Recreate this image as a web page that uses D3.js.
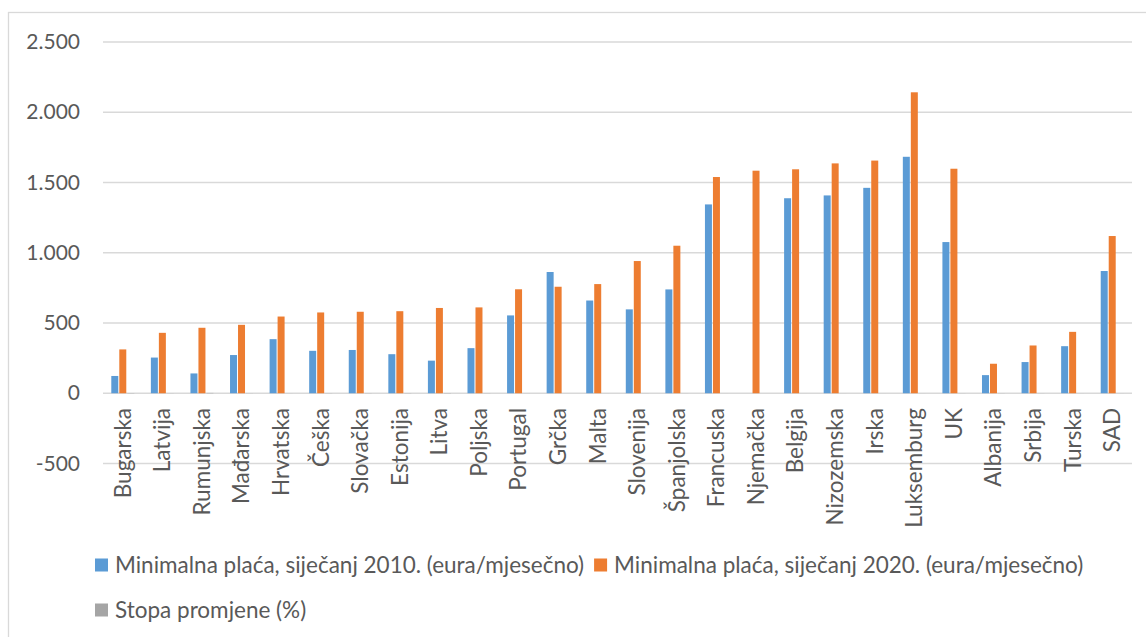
<!DOCTYPE html>
<html>
<head>
<meta charset="utf-8">
<script src="https://cdn.jsdelivr.net/npm/d3@7"></script>
<style>
  html, body { margin: 0; padding: 0; background: #fff; }
  svg text { font-family: Lato, "Open Sans", sans-serif; fill: #595959; }
</style>
</head>
<body>
<svg id="chart" width="1146" height="637"></svg>
<script>
const categories = ["Bugarska","Latvija","Rumunjska","Mađarska","Hrvatska","Češka","Slovačka","Estonija","Litva","Poljska","Portugal","Grčka","Malta","Slovenija","Španjolska","Francuska","Njemačka","Belgija","Nizozemska","Irska","Luksemburg","UK","Albanija","Srbija","Turska","SAD"];
const wage2010 = [123,254,141,272,385,302,308,278,232,321,554,863,660,597,739,1344,null,1388,1408,1462,1683,1076,129,222,335,870];
const wage2020 = [312,430,466,487,546,575,580,584,607,611,740,758,777,941,1050,1539,1584,1594,1636,1656,2142,1598,210,340,437,1119];
const changeRate = [1.62,0.69,2.30,0.79,0.42,0.90,0.88,1.10,1.62,0.90,0.34,-0.12,0.18,0.58,0.42,0.15,0,0.15,0.16,0.13,0.27,0.49,0.63,0.53,0.31,0.29];
const seriesNames = ["Minimalna plaća, siječanj 2010. (eura/mjesečno)","Minimalna plaća, siječanj 2020. (eura/mjesečno)","Stopa promjene (%)"];
const seriesColors = ["#5B9BD5","#ED7D31","#A5A5A5"];
const yTicks = [-500,0,500,1000,1500,2000,2500];

const svg = d3.select("#chart");
const FS = 22.5;
const FSY = 21;

// outer border
svg.append("rect").attr("x",8.5).attr("y",12.5).attr("width",1160).attr("height",660)
  .attr("fill","none").attr("stroke","#D9D9D9").attr("stroke-width",1.3);

const x0 = d3.scaleBand().domain(categories).range([103,1132]).paddingInner(0.394).paddingOuter(0.197);
const x1 = d3.scaleBand().domain([0,1,2]).range([0,x0.bandwidth()]);
const y = d3.scaleLinear().domain([-500,2500]).range([463.5,42]);

const loc = d3.formatLocale({decimal:",",thousands:".",grouping:[3],currency:["","€"],minus:"-"});
const fmt = loc.format(",d");

// gridlines
svg.append("g").selectAll("line").data(yTicks).join("line")
  .attr("x1",103).attr("x2",1132)
  .attr("y1",d=>y(d)).attr("y2",d=>y(d))
  .attr("stroke","#D9D9D9").attr("stroke-width",1.3);

// y axis labels
const yAxis = d3.axisLeft(y).tickValues(yTicks).tickFormat(fmt).tickSize(0).tickPadding(0);
const yg = svg.append("g").attr("transform","translate(80,0)").call(yAxis);
yg.select(".domain").remove();
yg.selectAll("text").attr("font-size",FSY).attr("fill","#595959").style("font-family","Lato, sans-serif");

// bars
const seriesData = [wage2010, wage2020, changeRate];
const groups = svg.append("g").selectAll("g").data(categories).join("g")
  .attr("transform",d=>`translate(${x0(d)},0)`);
groups.selectAll("rect").data((d,i)=>seriesData.map((s,k)=>({k, v:s[i]})).filter(o=>o.v!==null))
  .join("rect")
  .attr("x",o=>x1(o.k)+0.5)
  .attr("width",x1.bandwidth()-1)
  .attr("y",o=>Math.min(y(o.v),y(0)))
  .attr("height",o=>Math.abs(y(o.v)-y(0)))
  .attr("fill",o=>seriesColors[o.k]);

// x axis labels
const xAxis = d3.axisBottom(x0).tickSize(0).tickPadding(0);
const xg = svg.append("g").call(xAxis);
xg.select(".domain").remove();
xg.selectAll(".tick text")
  .attr("transform","translate(0,408) rotate(-90)")
  .attr("x",0).attr("y",0).attr("dy","0.35em")
  .attr("text-anchor","end")
  .attr("font-size",FS).attr("fill","#595959").style("font-family","Lato, sans-serif");

// legend
const leg = svg.append("g");
function legendItem(i, lx, ly) {
  leg.append("rect").attr("x",lx).attr("y",ly-6.5).attr("width",13).attr("height",13).attr("fill",seriesColors[i]);
  const t = leg.append("text").attr("x",lx+20).attr("y",ly).attr("dy","0.35em").attr("font-size",FS).text(seriesNames[i]);
  return lx + 20 + t.node().getComputedTextLength();
}
const end1 = legendItem(0, 95, 565);
legendItem(1, end1 + 10, 565);
legendItem(2, 95, 610);
</script>
</body>
</html>
